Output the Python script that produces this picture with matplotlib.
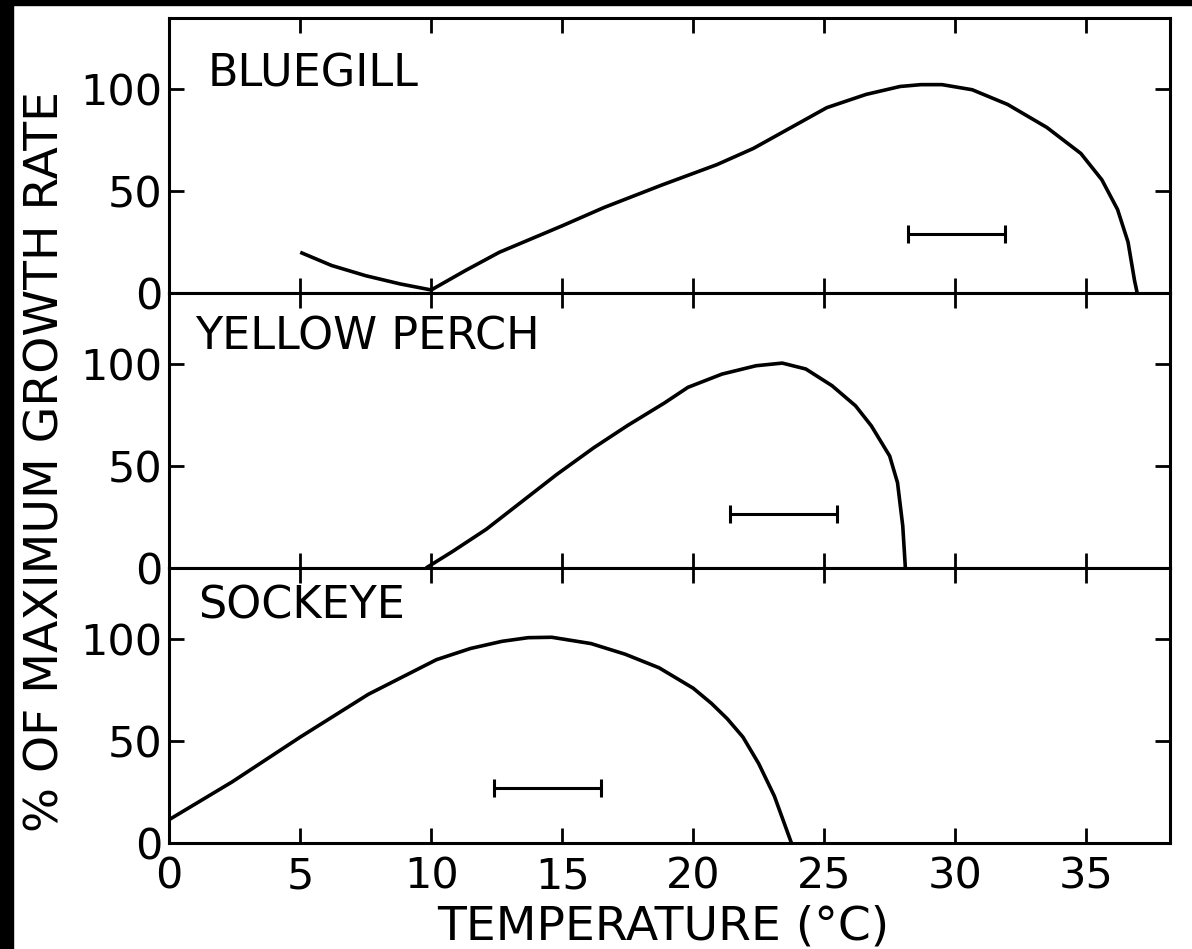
import numpy as np
import matplotlib.pyplot as plt
from matplotlib.patches import Rectangle

# values (temperature in deg C, growth in % of max)
bluegill_t = [5, 6.2, 7.5, 8.8, 10, 11.3, 12.6, 15, 16.6, 18.8, 20.9, 22.3, 23.7,
              25.1, 26.6, 27.9, 28.7, 29.5, 30.65, 32.0, 33.5, 34.8, 35.6, 36.2,
              36.6, 36.85, 36.95]
bluegill_g = [20, 13.5, 8.5, 4.5, 1.5, 11, 20, 33, 42, 53, 63, 71, 81,
              91, 97.5, 101.4, 102.3, 102.3, 99.8, 92.6, 81.3, 68.5, 55.6, 41,
              25, 6, 0]

perch_t = [9.8, 10.8, 12.1, 13.5, 14.8, 16.2, 17.5, 18.9, 19.8, 21.1, 22.4, 23.4,
           24.3, 25.3, 26.2, 26.8, 27.5, 27.8, 28.0, 28.1]
perch_g = [0, 8, 19, 33, 46, 59, 70, 81, 88.7, 95.2, 99.3, 100.6,
           97.7, 89.5, 79.6, 69.8, 55, 41.9, 20.7, 0]

sockeye_t = [0, 2.4, 5, 7.6, 10.2, 11.5, 12.7, 13.7, 14.6, 16.1, 17.4, 18.7,
             20.0, 20.7, 21.3, 21.9, 22.5, 23.1, 23.75]
sockeye_g = [11.5, 30, 52, 73, 90, 95.5, 99, 100.8, 101, 97.9, 92.7, 86,
             76, 68.5, 61, 52, 39, 23, 0]

# horizontal bars: (low, high, level)
bar_lo = [28.2, 21.4, 12.4]
bar_hi = [31.9, 25.5, 16.5]
bar_y = [29, 26.5, 27]

species = ['BLUEGILL', 'YELLOW PERCH', 'SOCKEYE']
label_x = [1.45, 1.0, 1.1]
label_y = [101.5, 107.5, 110]
curves = [(bluegill_t, bluegill_g), (perch_t, perch_g), (sockeye_t, sockeye_g)]

plt.rcParams['font.family'] = ['DejaVu Sans']

fig, axarr = plt.subplots(3, 1, figsize=(11.92, 9.49), dpi=100, sharex=True)
plt.subplots_adjust(left=0.142, right=0.9815, top=0.981, bottom=0.1117, hspace=0)

for i, ax in enumerate(axarr):
    t, g = curves[i]
    ax.plot(t, g, color='black', lw=2.6, solid_capstyle='butt', solid_joinstyle='round')
    lo, hi = bar_lo[i], bar_hi[i]
    ax.errorbar([(lo + hi) / 2], [bar_y[i]], xerr=[(hi - lo) / 2], fmt='none',
                ecolor='black', elinewidth=2.2, capsize=6.5, capthick=2.2)
    ax.text(label_x[i], label_y[i], species[i], fontsize=32, va='baseline', ha='left')
    ax.set_xlim(0, 38.2)
    ax.set_ylim(0, 135)
    ax.set_yticks([0, 50, 100])
    ax.set_xticks(range(0, 40, 5))
    ax.tick_params(direction='in', length=11, width=2, top=True, right=True,
                   labelsize=31, pad=5)
    for s in ax.spines.values():
        s.set_linewidth(2.2)

axarr[-1].tick_params(axis='x', pad=9)
axarr[-1].set_xlabel('TEMPERATURE (°C)', fontsize=34)
axarr[-1].xaxis.set_label_coords(0.494, -0.225)

fig.text(0.039, 1 - 462 / 949, '% OF MAXIMUM GROWTH RATE', rotation=90,
         fontsize=34, ha='center', va='center')

# dark scan border on the left and top edge
fig.patches.append(Rectangle((0, 0), 0.011, 1, transform=fig.transFigure,
                             color='black', zorder=-1))
fig.patches.append(Rectangle((0, 0.995), 1, 0.005, transform=fig.transFigure,
                             color='black', zorder=-1))

plt.savefig('out.png', dpi=100)
